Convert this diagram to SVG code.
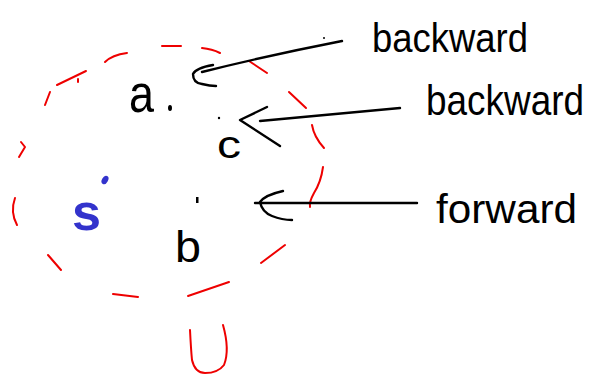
<svg xmlns="http://www.w3.org/2000/svg" width="595" height="376" viewBox="0 0 595 376">
<style>
.red{fill:none;stroke:#ee0000;stroke-width:2;stroke-linecap:round;stroke-linejoin:round}
.ink{fill:none;stroke:#000;stroke-width:2.4;stroke-linecap:round;stroke-linejoin:round}
.t{font-family:"Liberation Sans",Arial,sans-serif;fill:#000}
.dot{fill:#000}
</style>
<rect width="595" height="376" fill="#fff"/>
<g id="region">
<path class="red" d="M162,46 L181,46"/>
<path class="red" d="M202,48 Q212,49 220,53"/>
<path class="red" d="M105,62 Q112,55 127,53"/>
<path class="red" d="M57,85 L86,71"/>
<path class="red" d="M78,79 L78,82"/>
<path class="red" d="M45,105 L50,92"/>
<path class="red" d="M21,142 L25,147 L19,157"/>
<path class="red" d="M15,198 Q10,212 17,225"/>
<path class="red" d="M249,61 L267,73"/>
<path class="red" d="M289,92 L306,108"/>
<path class="red" d="M312,125 Q314,137 324,148"/>
<path class="red" d="M323,167 Q321,182 314,193 Q309,202 310,207"/>
<path class="red" d="M48,255 L61,270"/>
<path class="red" d="M113,294 L138,297"/>
<path class="red" d="M188,296 L229,282"/>
<path class="red" d="M261,263 L285,245"/>
<path class="red" d="M190,330 Q191,350 192,360 Q195,373 205,373 Q218,373 224,365 Q230,350 223,325"/>
</g>
<g id="connectors">
<path class="ink" d="M342,41 Q270,55 202,72"/>
<path class="ink" d="M213,65 Q196,68 193,74 Q193,83 202,84 Q210,86 216,86"/>
<circle class="dot" cx="324" cy="38" r="1"/>
<path class="ink" d="M400,108 L260,121"/>
<path class="ink" d="M267,107 L240,120 L280,146"/>
<path class="ink" d="M417,203 L255,203"/>
<path class="ink" d="M283,191 Q265,195 260,202 Q262,212 272,216 Q282,220 292,220"/>
</g>
<g id="node-a">
<text class="t" x="129" y="112" font-size="54" textLength="25" lengthAdjust="spacingAndGlyphs">a</text>
<ellipse class="dot" cx="170" cy="108" rx="2" ry="3"/>
</g>
<g id="node-c">
<circle class="dot" cx="219" cy="118" r="1.2"/>
<text class="t" x="217" y="158" font-size="38" textLength="24" lengthAdjust="spacingAndGlyphs">c</text>
</g>
<g id="node-b">
<rect class="dot" x="196" y="197" width="2.5" height="6"/>
<text class="t" x="175" y="262" font-size="44" textLength="26" lengthAdjust="spacingAndGlyphs">b</text>
</g>
<g id="node-s">
<ellipse cx="105" cy="180" rx="3" ry="4.5" fill="#3333cc" transform="rotate(30 105 180)"/>
<text x="72" y="230" font-family="'Liberation Sans',Arial,sans-serif" font-weight="bold" font-size="52" fill="#3333cc" textLength="29" lengthAdjust="spacingAndGlyphs">s</text>
</g>
<g id="label-backward-1">
<text class="t" x="372" y="52" font-size="40" textLength="156" lengthAdjust="spacingAndGlyphs">backward</text>
</g>
<g id="label-backward-2">
<text class="t" transform="translate(426,115) scale(1,1.13)" x="0" y="0" font-size="37" textLength="158" lengthAdjust="spacingAndGlyphs">backward</text>
</g>
<g id="label-forward">
<text class="t" x="436" y="223" font-size="40" textLength="141" lengthAdjust="spacingAndGlyphs">forward</text>
</g>
</svg>
